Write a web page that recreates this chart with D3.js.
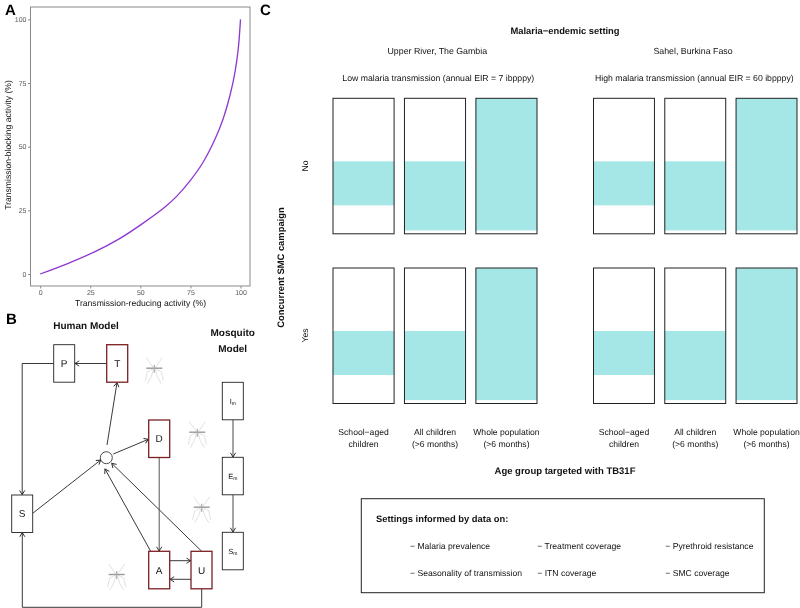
<!DOCTYPE html>
<html><head><meta charset="utf-8">
<script src="https://cdn.jsdelivr.net/npm/d3@7"></script>
<style>
html,body{margin:0;padding:0;background:#fff}
svg{display:block;will-change:opacity}
text{font-family:"Liberation Sans",Arial,sans-serif;fill:#111;text-rendering:geometricPrecision}
</style></head><body>
<svg id="c" width="800" height="608"></svg>
<script>
// ---- Panel A data
const reducing = [0,14,27.4,39,50.7,62.3,68.1,74.8,81.4,87.3,91.4,94.8,97.3,98.9,100];
const blocking = [0,4.2,8.8,13.6,19.6,26.3,30.5,36.6,44,53,61.1,70.3,79.5,88.6,100];
const ticksA = [0,25,50,75,100];
// ---- Panel B content
const humanNodes = ["P","T","D","S","A","U"];
const treatedNodes = ["T","D","A","U"];
const mosquitoNodes = ["Im","Em","Sm"];
// ---- Panel C data
const ageGroups = ["School\u2212aged|children","All children|(>6 months)","Whole population|(>6 months)"];
const settings = ["Upper River, The Gambia","Sahel, Burkina Faso"];
const transmission = ["Low malaria transmission (annual EIR = 7 ibpppy)","High malaria transmission (annual EIR = 60 ibpppy)"];
const smc = ["No","Yes"];
const bandLow = [0.21,0.025,0.025];
const bandHigh = [0.535,0.535,1];
const legendItems = ["Malaria prevalence","Seasonality of transmission","Treatment coverage","ITN coverage","Pyrethroid resistance","SMC coverage"];

const svg = d3.select("#c");
const T = (x,y,s,o={})=>{
  const t = svg.append("text").attr("x",x).attr("y",y).text(s)
    .attr("font-size",o.size||8.6).attr("text-anchor",o.anchor||"middle");
  if(o.bold) t.attr("font-weight","700");
  if(o.fill) t.style("fill",o.fill);
  if(o.rot) t.attr("transform",`rotate(${o.rot} ${x} ${y})`);
  return t;
};
// Panel letters
T(5,14.5,"A",{size:15,bold:true,anchor:"start",fill:"#000"});
T(6,323.5,"B",{size:15,bold:true,anchor:"start",fill:"#000"});
T(260,14.5,"C",{size:15,bold:true,anchor:"start",fill:"#000"});

// ---------- Panel A
const xA = d3.scaleLinear().domain([0,100]).range([40.2,240.5]);
const yA = d3.scaleLinear().domain([0,100]).range([274,19.4]);
const gA = svg.append("g");
const axB = gA.append("g").attr("transform","translate(0,286)").call(d3.axisBottom(xA).tickValues(ticksA).tickSize(2.5).tickPadding(2));
const axL = gA.append("g").attr("transform","translate(30.5,0)").call(d3.axisLeft(yA).tickValues(ticksA).tickSize(2.5).tickPadding(1.5));
[axB,axL].forEach(a=>{
  a.select(".domain").remove();
  a.selectAll("line").attr("stroke","#555").attr("stroke-width",.7);
  a.selectAll("text").attr("font-size",7).style("fill","#5a5a5a");
});
gA.append("rect").attr("x",30.5).attr("y",7).attr("width",219.5).attr("height",279)
  .attr("fill","none").attr("stroke","#8a8a8a").attr("stroke-width",1);
gA.append("path").datum(reducing.map((r,i)=>[r,blocking[i]]))
  .attr("d",d3.line().x(d=>xA(d[0])).y(d=>yA(d[1])).curve(d3.curveCatmullRom.alpha(0.5)))
  .attr("fill","none").attr("stroke","#8e35d0").attr("stroke-width",1.3);
T(140.5,306,"Transmission-reducing activity (%)",{size:8.6});
T(10.5,145,"Transmission-blocking activity (%)",{size:8.6,rot:-90});

// ---------- Panel B
const defs = svg.append("defs");
defs.append("marker").attr("id","ah").attr("markerUnits","userSpaceOnUse").attr("viewBox","-6 -4 8 8")
  .attr("markerWidth",8).attr("markerHeight",8).attr("refX",0).attr("refY",0).attr("orient","auto")
  .append("path").attr("d","M-4.2,-2.6L0,0L-4.2,2.6").attr("fill","none").attr("stroke","#222").attr("stroke-width",.9);
const layout = {P:[53.7,344.7],T:[106.7,344.7],D:[148.7,420],S:[11.7,495],A:[148.7,551.3],U:[191,551.3],
  Im:[222.3,382.3],Em:[222.3,457.3],Sm:[222.3,532.3]};
const NW=21, NH=37.5;
const hub=[106.3,457.7];
const gB = svg.append("g");
const arrow=(pts,col,w)=>gB.append("path").attr("d",d3.line()(pts)).attr("fill","none")
  .attr("stroke",col||"#222").attr("stroke-width",w||.9).attr("marker-end","url(#ah)");
arrow([[53.7,363.5],[22.2,363.5],[22.2,494.6]]);
arrow([[106.7,363.5],[75,363.5]]);
arrow([[107,445],[117,382.6]]);
arrow([[113.3,454],[148.4,439.3]]);
arrow([[32.7,513.3],[100.7,460]]);
arrow([[150.7,551.3],[105,469]]);
arrow([[201.7,551.3],[111.7,463.3]]);
arrow([[159.2,457.3],[159.2,551]],"#555",1);
arrow([[169.7,560.7],[190.7,560.7]]);
arrow([[191,579.3],[170,579.3]]);
arrow([[201.7,588.8],[201.7,607.3],[22.3,607.3],[22.3,532.6]]);
arrow([[233,419.8],[233,457]],"#666",1.2);
arrow([[233,494.8],[233,532]],"#666",1.2);
gB.append("circle").attr("cx",hub[0]).attr("cy",hub[1]).attr("r",6).attr("fill","#fff").attr("stroke","#222").attr("stroke-width",.8);
const nodes = humanNodes.concat(mosquitoNodes);
gB.selectAll("rect.n").data(nodes).join("rect").attr("class","n")
  .attr("x",d=>layout[d][0]).attr("y",d=>layout[d][1]).attr("width",NW).attr("height",NH)
  .attr("fill","#fff").attr("stroke",d=>treatedNodes.includes(d)?"#7a2024":"#222")
  .attr("stroke-width",d=>treatedNodes.includes(d)?1.3:.9);
humanNodes.forEach(n=>T(layout[n][0]+NW/2,layout[n][1]+NH/2+3.5,n,{size:10}));
mosquitoNodes.forEach(n=>{
  const t=T(layout[n][0]+NW/2,layout[n][1]+NH/2+2.5,n[0],{size:7.5});
  t.append("tspan").attr("dy",1.5).attr("font-size",5).text(n[1]);
});
// Mosquito glyphs
[[154.3,367.7],[197.3,431.7],[201.7,506.7],[116.7,574]].forEach(([x,y])=>{
  const g=gB.append("g").attr("transform",`translate(${x},${y})`).attr("fill","none");
  const legs=["M-1,0L-8,-10","M1,0L8,-10","M-1,1L-7,4L-9,13","M1,1L7,4L9,13","M-1,2L-3,9L-7,16","M1,2L3,9L7,16"];
  legs.forEach(d=>g.append("path").attr("d",d).attr("stroke","#d4d4d4").attr("stroke-width",.7));
  g.append("path").attr("d","M-8,0.5L8,0.5").attr("stroke","#999").attr("stroke-width",1.4);
  g.append("path").attr("d","M0,-3L0,5").attr("stroke","#aaa").attr("stroke-width",1.2);
});
T(86,329,"Human Model",{bold:true,size:10});
T(232.7,336,"Mosquito",{bold:true,size:10});
T(232.7,352,"Model",{bold:true,size:10});

// ---------- Panel C
const colX = [d3.scaleBand().domain(d3.range(3)).range([333,537]).paddingInner(0.145).paddingOuter(0),
              d3.scaleBand().domain(d3.range(3)).range([593.5,797]).paddingInner(0.145).paddingOuter(0)];
const rowTop=[98.3,268], rowH=135.5;
const gC=svg.append("g");
colX.forEach((x,si)=>{
  rowTop.forEach((top,ri)=>{
    const y=d3.scaleLinear().domain([0,1]).range([top+rowH,top]);
    gC.selectAll(null).data(d3.range(3)).join("rect")
      .attr("x",i=>x(i)).attr("width",x.bandwidth())
      .attr("y",i=>y(bandHigh[i])).attr("height",i=>y(bandLow[i])-y(bandHigh[i]))
      .attr("fill","#a5e6e6");
    gC.selectAll(null).data(d3.range(3)).join("rect")
      .attr("x",i=>x(i)).attr("width",x.bandwidth())
      .attr("y",top).attr("height",rowH)
      .attr("fill","none").attr("stroke","#222").attr("stroke-width",1);
  });
  ageGroups.forEach((g,i)=>{
    const [a,b]=g.split("|");
    const cx=x(i)+x.bandwidth()/2;
    T(cx,435,a); T(cx,446.7,b);
  });
});
T(565,33.7,"Malaria\u2212endemic setting",{bold:true,size:9.4});
settings.forEach((s,i)=>T([437.3,693][i],54.3,s,{size:8.8}));
transmission.forEach((s,i)=>T([438.3,694.3][i],81.3,s,{size:8.7}));
smc.forEach((s,i)=>T(308,[166,335.5][i],s,{rot:-90}));
T(284,267.5,"Concurrent SMC campaign",{bold:true,size:9.4,rot:-90});
T(565,474,"Age group targeted with TB31F",{bold:true,size:9.5});

// Legend
svg.append("rect").attr("x",361.3).attr("y",498.7).attr("width",403).attr("height",94)
  .attr("fill","none").attr("stroke","#222").attr("stroke-width",1);
T(376,522,"Settings informed by data on:",{bold:true,size:9.4,anchor:"start"});
const lx=[410,537.3,665.3], ly=[549.3,576];
legendItems.forEach((s,i)=>T(lx[Math.floor(i/2)],ly[i%2],"\u2212 "+s,{anchor:"start"}));
</script>
</body></html>
